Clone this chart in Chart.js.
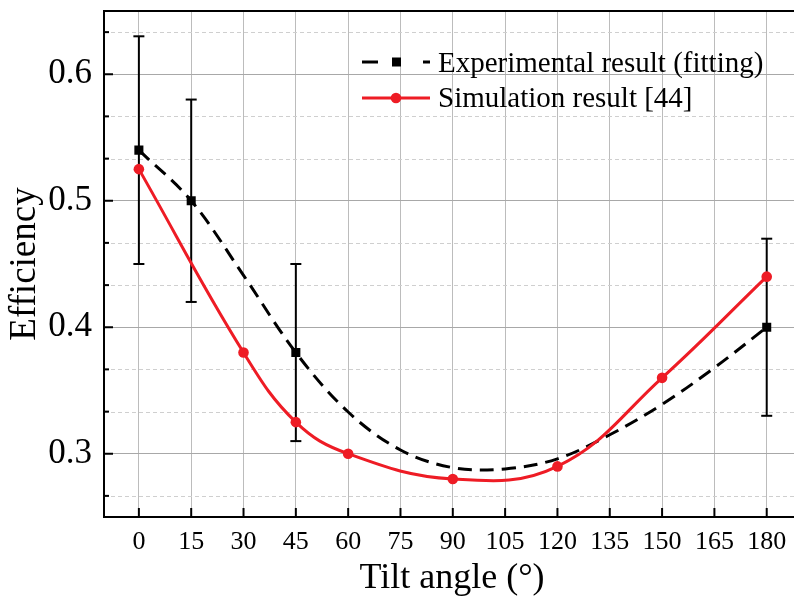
<!DOCTYPE html>
<html>
<head>
<meta charset="utf-8">
<script src="https://cdn.jsdelivr.net/npm/chart.js@4"></script>
<style>
    html, body { margin: 0; padding: 0; background: #fff; overflow: hidden; }
    #wrap { width: 808px; height: 596px; }
</style>
</head>
<body>
<div id="wrap"><canvas id="efficiencyChart"></canvas></div>
<script>
// experimental points (with error bars)
const expAngles = [0, 15, 45, 180];
const expValues = [0.54, 0.50, 0.38, 0.40];
const expLow = [0.45, 0.42, 0.31, 0.33];
const expHigh = [0.63, 0.58, 0.45, 0.47];

// fitting curve through the experimental data
const fitAngles = [0, 15, 30, 45, 60, 75, 90, 105, 120, 135, 150, 165, 180];
const fitValues = [0.54, 0.50, 0.441, 0.38, 0.333, 0.303, 0.289, 0.288, 0.296, 0.315, 0.339, 0.368, 0.40];

// simulation result [44]
const simAngles = [0, 30, 45, 60, 90, 120, 150, 180];
const simValues = [0.525, 0.38, 0.325, 0.30, 0.28, 0.29, 0.36, 0.44];

const xTicks = [0, 15, 30, 45, 60, 75, 90, 105, 120, 135, 150, 165, 180];
const yTicks = [0.3, 0.4, 0.5, 0.6];
const yMinorTicks = [0.2667, 0.3333, 0.3667, 0.4333, 0.4667, 0.5333, 0.5667, 0.6333];

const RED = "#ee1c25";
const SERIF = "'Liberation Serif', 'Times New Roman', serif";

const toPoints = (xs, ys) => xs.map((x, i) => ({ x, y: ys[i] }));

function strokeLine(ctx, x1, y1, x2, y2) {
    ctx.beginPath();
    ctx.moveTo(x1, y1);
    ctx.lineTo(x2, y2);
    ctx.stroke();
}

const decorPlugin = {
    id: "decor",
    beforeDatasetsDraw(chart) {
        const { ctx, chartArea: a, scales: { x, y } } = chart;
        ctx.save();
        // dashed minor grid
        ctx.strokeStyle = "#cfcfcf";
        ctx.lineWidth = 1;
        ctx.setLineDash([4, 3]);
        yMinorTicks.forEach((v) => {
            const py = Math.round(y.getPixelForValue(v)) + 0.5;
            strokeLine(ctx, a.left, py, a.right, py);
        });
        ctx.setLineDash([]);

        // error bars
        ctx.strokeStyle = "#000";
        ctx.lineWidth = 2;
        expAngles.forEach((ang, i) => {
            const px = x.getPixelForValue(ang);
            const top = y.getPixelForValue(expHigh[i]);
            const bot = y.getPixelForValue(expLow[i]);
            strokeLine(ctx, px, top, px, bot);
            strokeLine(ctx, px - 5.5, top, px + 5.5, top);
            strokeLine(ctx, px - 5.5, bot, px + 5.5, bot);
        });
        ctx.restore();
    },
    afterDraw(chart) {
        const { ctx, chartArea: a, scales: { x, y } } = chart;
        ctx.save();

        // inward tick marks
        ctx.strokeStyle = "#000";
        ctx.lineWidth = 2;
        xTicks.forEach((v) => {
            const px = x.getPixelForValue(v);
            strokeLine(ctx, px, a.bottom, px, a.bottom - 9);
        });
        yTicks.forEach((v) => {
            const py = y.getPixelForValue(v);
            strokeLine(ctx, a.left, py, a.left + 9, py);
        });
        yMinorTicks.forEach((v) => {
            const py = y.getPixelForValue(v);
            strokeLine(ctx, a.left, py, a.left + 5, py);
        });

        // frame
        ctx.lineWidth = 2;
        ctx.strokeRect(a.left, a.top, a.right - a.left, a.bottom - a.top);

        // axis titles
        ctx.fillStyle = "#000";
        ctx.font = `36px ${SERIF}`;
        ctx.textAlign = "center";
        ctx.textBaseline = "alphabetic";
        ctx.fillText("Tilt angle (°)", 452, 588);

        ctx.save();
        ctx.translate(35, (a.top + a.bottom) / 2);
        ctx.rotate(-Math.PI / 2);
        ctx.font = `37px ${SERIF}`;
        ctx.fillText("Efficiency", 0, 0);
        ctx.restore();

        // legend
        ctx.lineWidth = 3;
        ctx.strokeStyle = "#000";
        strokeLine(ctx, 362, 62, 378, 62);
        strokeLine(ctx, 423, 62, 430, 62);
        ctx.fillStyle = "#000";
        ctx.fillRect(392, 57.5, 9, 9);

        ctx.strokeStyle = RED;
        strokeLine(ctx, 362, 98, 430, 98);
        ctx.fillStyle = RED;
        ctx.beginPath();
        ctx.arc(396, 98, 5.3, 0, Math.PI * 2);
        ctx.fill();

        ctx.fillStyle = "#000";
        ctx.font = `29px ${SERIF}`;
        ctx.textAlign = "left";
        ctx.fillText("Experimental result (fitting)", 438, 72);
        ctx.fillText("Simulation result [44]", 438, 107);
        ctx.restore();
    },
};

document.addEventListener("DOMContentLoaded", () => {
    const ctx = document.getElementById("efficiencyChart");
    new Chart(ctx, {
        type: "line",
        data: {
            datasets: [
                {
                    label: "Simulation result [44]",
                    data: toPoints(simAngles, simValues),
                    borderColor: RED,
                    backgroundColor: RED,
                    borderWidth: 3,
                    tension: 0.4,
                    pointRadius: 5.3,
                    pointBorderWidth: 0,
                    pointBackgroundColor: RED,
                },
                {
                    label: "Experimental result",
                    data: toPoints(expAngles, expValues),
                    showLine: false,
                    pointStyle: "rect",
                    pointRadius: 6.4,
                    pointBorderWidth: 0,
                    pointBackgroundColor: "#000",
                },
                {
                    label: "Experimental result (fitting)",
                    data: toPoints(fitAngles, fitValues),
                    borderColor: "#000",
                    borderWidth: 3,
                    borderDash: [14, 8],
                    tension: 0.35,
                    pointRadius: 0,
                },
            ],
        },
        options: {
            responsive: true,
            maintainAspectRatio: false,
            animation: false,
            layout: { padding: { left: 0, top: 11, right: 1, bottom: 0 } },
            plugins: {
                legend: { display: false },
                tooltip: { enabled: false },
            },
            scales: {
                x: {
                    type: "linear",
                    min: -10,
                    max: 190,
                    afterBuildTicks: (scale) => {
                        scale.ticks = xTicks.map((v) => ({ value: v }));
                    },
                    afterFit: (scale) => {
                        scale.height = 79;
                        scale.paddingLeft = 0;
                        scale.paddingRight = 0;
                    },
                    grid: { color: "#bcbcbc", lineWidth: 1, drawTicks: false },
                    border: { display: false },
                    ticks: {
                        padding: 10,
                        color: "#000",
                        font: { family: SERIF, size: 26 },
                        maxRotation: 0,
                        autoSkip: false,
                        callback: (v) => String(v),
                    },
                },
                y: {
                    min: 0.25,
                    max: 0.65,
                    afterBuildTicks: (scale) => {
                        scale.ticks = yTicks.map((v) => ({ value: v }));
                    },
                    afterFit: (scale) => {
                        scale.width = 104;
                        scale.paddingTop = 0;
                        scale.paddingBottom = 0;
                    },
                    grid: { color: "#a8a8a8", lineWidth: 1, drawTicks: false },
                    border: { display: false },
                    ticks: {
                        padding: 12,
                        color: "#000",
                        font: { family: SERIF, size: 35 },
                        callback: (v) => v.toFixed(1),
                    },
                },
            },
        },
        plugins: [decorPlugin],
    });
});
</script>
</body>
</html>
